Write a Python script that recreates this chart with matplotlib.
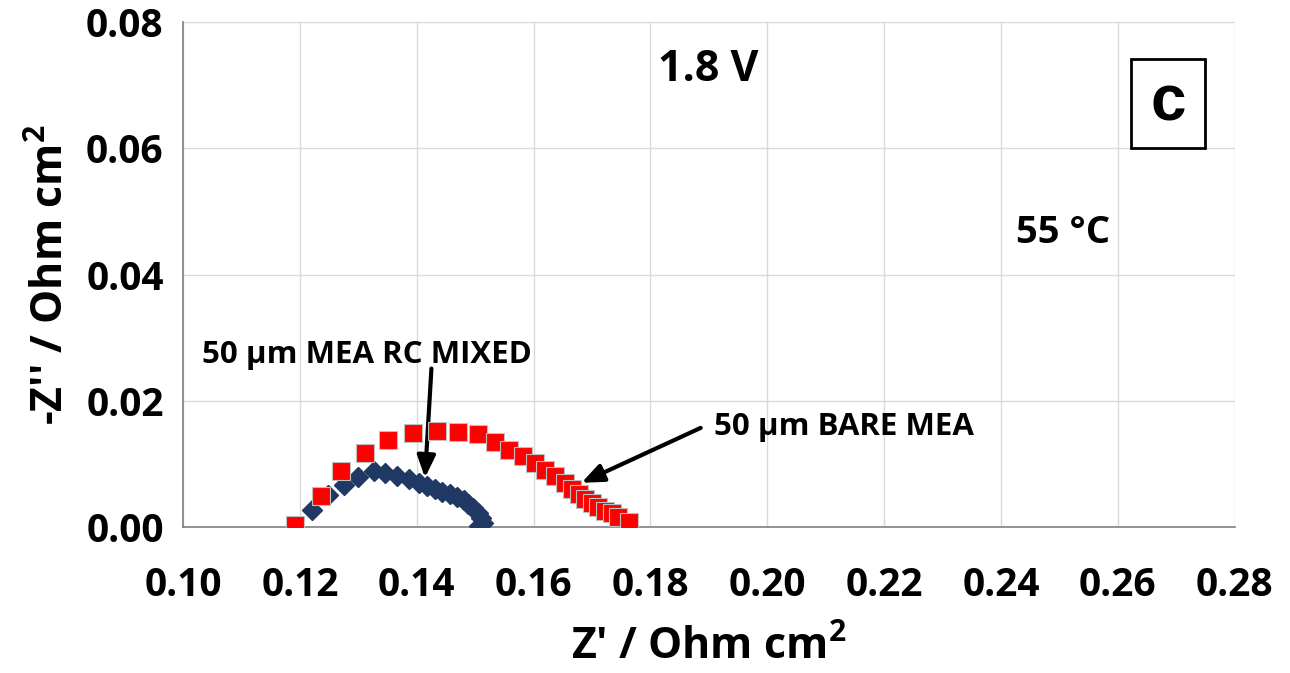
import matplotlib
matplotlib.use("Agg")
import matplotlib.pyplot as plt
from matplotlib.patches import Rectangle
from matplotlib.ticker import MultipleLocator, FormatStrFormatter

plt.rcParams['font.family'] = ['Open Sans', 'DejaVu Sans']
plt.rcParams['font.weight'] = 'bold'

# 50 um BARE MEA (red squares)
bare_x = [0.1191, 0.1236, 0.1270, 0.1311, 0.1351, 0.1394, 0.1434, 0.1471, 0.1504,
          0.1534, 0.1558, 0.1581, 0.1603, 0.1620, 0.1637, 0.1653, 0.1666, 0.1677,
          0.1688, 0.1700, 0.1711, 0.1723, 0.1734, 0.1745, 0.1763]
bare_y = [0.0003, 0.0049, 0.0089, 0.0118, 0.0138, 0.0149, 0.0152, 0.0150, 0.0148,
          0.0134, 0.0122, 0.0112, 0.0101, 0.0090, 0.0080, 0.0069, 0.0060, 0.0052,
          0.0044, 0.0038, 0.0032, 0.0026, 0.0022, 0.0016, 0.0008]

# 50 um MEA RC MIXED (navy diamonds)
rc_x = [0.1221, 0.1248, 0.1276, 0.1300, 0.1326, 0.1346, 0.1366, 0.1386, 0.1403,
        0.1417, 0.1431, 0.1443, 0.1457, 0.1468, 0.1480, 0.1488, 0.1497, 0.1504,
        0.1510, 0.1514, 0.1507]
rc_y = [0.0027, 0.0051, 0.0067, 0.0079, 0.0088, 0.0085, 0.0081, 0.0076, 0.0070,
        0.0065, 0.0060, 0.0056, 0.0052, 0.0048, 0.0043, 0.0037, 0.0030, 0.0022,
        0.0014, 0.0007, 0.0002]

fig = plt.figure(figsize=(12.9, 6.73), dpi=100)
ax = fig.add_axes([0.142, 0.217, 0.815, 0.750])

ax.plot(rc_x, rc_y, linestyle='none', marker='D', markersize=10,
        color='#1F3864', markeredgecolor='#1F3864', zorder=3)
ax.plot(bare_x, bare_y, linestyle='none', marker='s', markersize=13,
        color='#FF0000', markeredgecolor='#BFBFBF', markeredgewidth=0.8, zorder=4)

ax.set_xlim(0.10, 0.28)
ax.set_ylim(0.0, 0.08)
ax.xaxis.set_major_locator(MultipleLocator(0.02))
ax.yaxis.set_major_locator(MultipleLocator(0.02))
ax.xaxis.set_major_formatter(FormatStrFormatter('%.2f'))
ax.yaxis.set_major_formatter(FormatStrFormatter('%.2f'))
ax.grid(True, color='#D9D9D9', linewidth=1)
ax.set_axisbelow(True)
for s in ['top', 'right']:
    ax.spines[s].set_visible(False)
for s in ['left', 'bottom']:
    ax.spines[s].set_color('#808080')
    ax.spines[s].set_linewidth(1.2)
ax.tick_params(axis='x', length=0, labelsize=28, pad=28)
ax.tick_params(axis='y', length=0, labelsize=28, pad=14)
for lab in ax.get_xticklabels() + ax.get_yticklabels():
    lab.set_fontweight('bold')

ax.set_xlabel("Z' / Ohm cm$^\\mathregular{2}$", fontsize=31, fontweight='bold', labelpad=15)
ax.set_ylabel("-Z'' / Ohm cm$^\\mathregular{2}$", fontsize=31, fontweight='bold', labelpad=10)

ax.text(0.1899, 0.0725, "1.8 V", fontsize=31, fontweight='bold', ha='center', va='center')
ax.text(0.2507, 0.0466, "55 °C", fontsize=27.5, fontweight='bold', ha='center', va='center')
ax.add_patch(Rectangle((0.902, 0.7505), 0.0695, 0.176, transform=ax.transAxes,
                       facecolor='white', edgecolor='black', linewidth=2, zorder=5))
ax.text(0.9368, 0.839, "c", fontsize=46, fontweight='bold', ha='center', va='center',
        family='Liberation Sans', transform=ax.transAxes, zorder=6)

ax.annotate("", xy=(0.1414, 0.0078), xytext=(0.1425, 0.0251),
            arrowprops=dict(arrowstyle='-|>,head_length=0.6,head_width=0.25',
                            color='black', lw=3, mutation_scale=22, shrinkA=0, shrinkB=0))
ax.text(0.1314, 0.0272, "50 µm MEA RC MIXED", fontsize=22.5, fontweight='bold',
        ha='center', va='center')
ax.annotate("", xy=(0.1682, 0.0070), xytext=(0.1886, 0.0157),
            arrowprops=dict(arrowstyle='-|>,head_length=0.6,head_width=0.25',
                            color='black', lw=3, mutation_scale=22, shrinkA=0, shrinkB=0))
ax.text(0.2131, 0.0159, "50 µm BARE MEA", fontsize=22.5, fontweight='bold',
        ha='center', va='center')

fig.savefig("out.png", dpi=100)
